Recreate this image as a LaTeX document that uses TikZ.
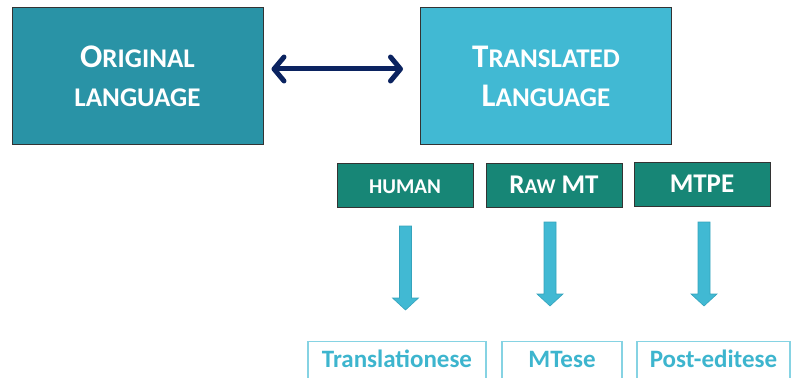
\documentclass[tikz,border=0pt]{standalone}
\usepackage{fontspec}
\setmainfont{Carlito}
\usetikzlibrary{arrows.meta}
\definecolor{origc}{HTML}{2993A6}
\definecolor{transc}{HTML}{41B9D3}
\definecolor{greenc}{HTML}{178676}
\definecolor{navyc}{HTML}{0B2360}
\definecolor{outc}{HTML}{86D3E3}
\definecolor{outtext}{HTML}{3DB5CE}
\definecolor{arrline}{HTML}{35A3BC}
\newcommand\bigC[1]{{\fontsize{33}{39}\selectfont #1}}
\newcommand\bigS[1]{{\fontsize{27}{39}\selectfont #1}}
\newcommand\midC[1]{{\fontsize{27}{30}\selectfont #1}}
\newcommand\midS[1]{{\fontsize{21}{30}\selectfont #1}}
\newcommand\blockarrow[4]{%
  \filldraw[blockarr] (#1-6,#2) coordinate (#4) -- (#1+6,#2) -- (#1+6,#3-12) -- (#1+13,#3-12) -- (#1,#3) -- (#1-13,#3-12) -- (#1-6,#3-12) -- cycle;}
\tikzset{
  bigbox/.style={draw=black!80, line width=1pt, minimum width=251pt, minimum height=136pt,
    align=center, text=white, inner sep=0pt, font=\bfseries\fontsize{33}{39}\selectfont},
  kindbox/.style={draw=black!80, line width=0.9pt, fill=greenc, minimum width=136pt, minimum height=44pt,
    text=white, inner sep=0pt, text height=17.5pt, text depth=0pt, font=\bfseries\fontsize{27}{30}\selectfont},
  outbox/.style={draw=outc, line width=1.2pt, anchor=north, inner ysep=0pt, inner xsep=0pt,
    text height=26pt, text depth=40pt, text=outtext, font=\bfseries\fontsize{25}{28}\selectfont},
  blockarr/.style={fill=transc, draw=arrline, line width=0.6pt, line join=miter},
  dblarr/.style={draw=navyc, line width=5pt,
    {Straight Barb[length=10pt, width=24pt, line join=round, line cap=round]}-{Straight Barb[length=10pt, width=24pt, line join=round, line cap=round]}}
}
\begin{document}
\begin{tikzpicture}[x=1pt, y=-1pt]
\useasboundingbox (0,0) rectangle (791,377);
\clip (0,0) rectangle (791,377);
\node[bigbox, fill=origc] (orig) at (137.5,76) {\bigC{O}\bigS{RIGINAL}\\\bigS{LANGUAGE}};
\node[bigbox, fill=transc] (trans) at (546,76) {\bigC{T}\bigS{RANSLATED}\\\bigC{L}\bigS{ANGUAGE}};
\draw[dblarr, shorten <=8pt, shorten >=17pt] ([yshift=7pt]orig.east) -- ([yshift=7pt]trans.west);
\node[kindbox] (human) at (405,185) {\midS{HUMAN}};
\node[kindbox] (raw) at (554,185) {\midC{R}\midS{AW} \midC{MT}};
\node[kindbox] (mtpe) at (702,184) {\midC{MTPE}};
\blockarrow{405.5}{226}{310}{a1}
\blockarrow{550}{222}{306}{a2}
\blockarrow{704}{222}{306}{a3}
\node[outbox, minimum width=178pt] (tr) at (397,341) {Translationese};
\node[outbox, minimum width=120pt] (mt) at (562,341) {MTese};
\node[outbox, minimum width=153pt] (pe) at (713.5,341) {Post-editese};
\end{tikzpicture}
\end{document}
